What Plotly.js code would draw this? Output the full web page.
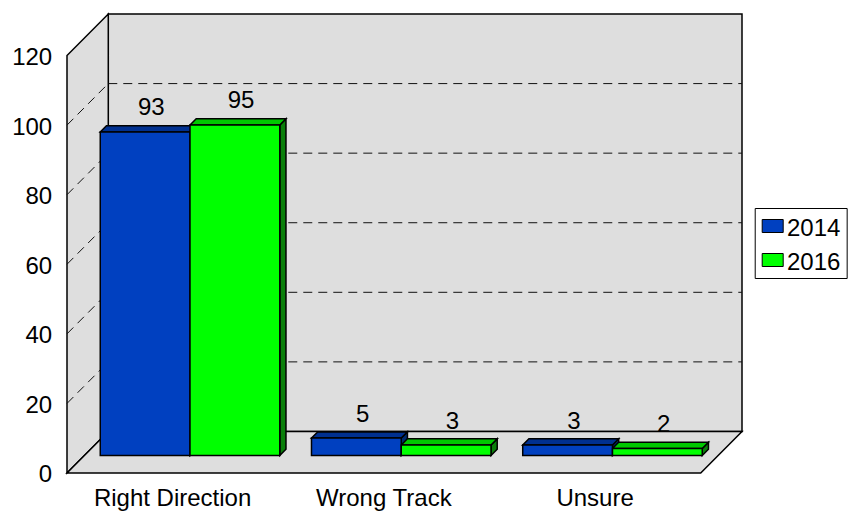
<!DOCTYPE html>
<html>
<head>
<meta charset="utf-8">
<script src="https://cdn.plot.ly/plotly-3.0.1.min.js"></script>
<style>html,body{margin:0;padding:0;background:#fff}#c{width:849px;height:512px}</style>
</head>
<body>
<div id="c"></div>
<script>
var categories = ['Right Direction', 'Wrong Track', 'Unsure'];
var seriesNames = ['2014', '2016'];
var values2014 = [93, 5, 3];
var values2016 = [95, 3, 2];
var yTicks = [0, 20, 40, 60, 80, 100, 120];

var W = 849, H = 512;
var PX_X = 211.33, PX_Y = 3.475;          // pixels per axis unit
var LEFT = 67, BOTTOM = 473;
var DX = 41.3 / PX_X, DY = 41.5 / PX_Y;   // wall depth
var BX = 17.4 / PX_X, BY = 17.5 / PX_Y;   // bar inset from the front plane
var CX = 6.2 / PX_X, CY = 6.2 / PX_Y;     // bar depth
var BW = 89.8 / PX_X;                     // bar width
var PAD = 3;                              // pixels of room round the walls
var XMIN = -0.5, XMAX = 2.5, YMAX = 120, FONT = 'Liberation Sans, Arial, sans-serif', FS = 24;

var COL = {
  wall: '#dedede', line: '#000000', grid: '#111111',
  blue: '#0040c0', blueTop: '#003090', blueSide: '#002a70',
  green: '#00ff00', greenTop: '#00c800', greenSide: '#0a7f0a'
};

function path(pts) {
  return 'M' + pts.map(function (p) { return p[0] + ' ' + p[1]; }).join(' L') + ' Z';
}
function poly(pts, fill) {
  return {type: 'path', xref: 'x', yref: 'y', layer: 'below', path: path(pts), fillcolor: fill,
          line: {color: COL.line, width: 1.5}};
}
function dash(x0, y0, x1, y1) {
  return {type: 'line', xref: 'x', yref: 'y', layer: 'below', x0: x0, y0: y0, x1: x1, y1: y1,
          line: {color: COL.grid, width: 1, dash: '9px,6px'}};
}
var shapes = [
  poly([[XMIN + DX, DY], [XMAX + DX, DY], [XMAX + DX, YMAX + DY], [XMIN + DX, YMAX + DY]], COL.wall),
  poly([[XMIN, 0], [XMIN, YMAX], [XMIN + DX, YMAX + DY], [XMIN + DX, DY]], COL.wall),
  poly([[XMIN, 0], [XMAX, 0], [XMAX + DX, DY], [XMIN + DX, DY]], COL.wall)
];
yTicks.forEach(function (t) {
  if (t === 0 || t === YMAX) return;
  shapes.push(dash(XMIN, t, XMIN + DX, t + DY));
  shapes.push(dash(XMIN + DX, t + DY, XMAX + DX, t + DY));
});

function barFaces(vals, side, topCol, sideCol) {
  vals.forEach(function (v, i) {
    var x0 = i + BX + (side < 0 ? -BW : 0), x1 = x0 + BW, y0 = BY, y1 = BY + v;
    shapes.push(poly([[x1, y0], [x1 + CX, y0 + CY], [x1 + CX, y1 + CY], [x1, y1]], sideCol));
    shapes.push(poly([[x0, y1], [x1, y1], [x1 + CX, y1 + CY], [x0 + CX, y1 + CY]], topCol));
  });
}
barFaces(values2014, -1, COL.blueTop, COL.blueSide);
barFaces(values2016, 1, COL.greenTop, COL.greenSide);

var XR = [XMIN - PAD / PX_X, XMAX + DX + PAD / PX_X];
var YR = [-PAD / PX_Y, YMAX + DY + PAD / PX_Y];
var margin = {
  l: LEFT - PAD, b: H - BOTTOM - PAD, t: 14 - PAD,
  r: W - (LEFT + (XMAX - XMIN + DX) * PX_X + PAD), pad: 0
};
var plotW = W - margin.l - margin.r, plotH = H - margin.t - margin.b;
function px(x) { return (x - margin.l) / plotW; }
function py(y) { return 1 - (y - margin.t) / plotH; }
function rect(x0, y0, x1, y1, fill) {
  return {type: 'rect', xref: 'paper', yref: 'paper', x0: px(x0), x1: px(x1), y0: py(y0), y1: py(y1),
          fillcolor: fill, line: {color: COL.line, width: 1}};
}
shapes.push(rect(755.5, 208.5, 847.5, 278.5, '#ffffff'));
shapes.push(rect(762.5, 219.5, 783.5, 232.5, COL.blue));
shapes.push(rect(762.5, 253.5, 783.5, 266.5, COL.green));
var annotations = seriesNames.map(function (n, i) {
  return {xref: 'paper', yref: 'paper', x: px(786.5), y: py(227 + 34 * i), text: n, showarrow: false,
          xanchor: 'left', yanchor: 'middle', align: 'left', borderpad: 0,
          font: {family: FONT, size: FS, color: '#000'}};
});

function barTrace(name, vals, col, side) {
  return {
    type: 'bar', name: name, showlegend: false, hoverinfo: 'skip',
    x: vals.map(function (v, i) { return i + BX; }),
    y: vals, base: BY, width: BW, offset: side < 0 ? -BW : 0,
    marker: {color: col, line: {color: COL.line, width: 1.5}}
  };
}
function labelTrace(vals, side) {
  return {
    type: 'scatter', mode: 'text', showlegend: false, hoverinfo: 'skip', cliponaxis: false,
    x: vals.map(function (v, i) { return i + BX + side * BW / 2 + CX; }),
    y: vals.map(function (v) { return v + BY + 22.5 / PX_Y; }),
    text: vals.map(String), textposition: 'middle center',
    textfont: {family: FONT, size: FS, color: '#000'}
  };
}
var data = [
  barTrace(seriesNames[0], values2014, COL.blue, -1),
  barTrace(seriesNames[1], values2016, COL.green, 1),
  labelTrace(values2014, -1),
  labelTrace(values2016, 1)
];

var layout = {
  width: W, height: H, margin: margin, paper_bgcolor: '#fff', plot_bgcolor: 'rgba(0,0,0,0)',
  showlegend: false, barmode: 'overlay',
  font: {family: FONT, size: FS, color: '#000'},
  xaxis: {
    range: XR, tickmode: 'array', tickvals: categories.map(function (c, i) { return i; }), ticktext: categories,
    showgrid: false, zeroline: false, showline: false, ticks: 'outside', ticklen: 0, tickcolor: 'rgba(0,0,0,0)',
    tickfont: {family: FONT, size: FS, color: '#000'}
  },
  yaxis: {
    range: YR, tickmode: 'array', tickvals: yTicks, ticktext: yTicks.map(String),
    showgrid: false, zeroline: false, showline: false, ticks: 'outside', ticklen: 6, tickcolor: 'rgba(0,0,0,0)',
    ticklabelshift: 1,
    tickfont: {family: FONT, size: FS, color: '#000'}
  },
  shapes: shapes, annotations: annotations
};
Plotly.newPlot('c', data, layout, {displayModeBar: false, staticPlot: true});
</script>
</body>
</html>
